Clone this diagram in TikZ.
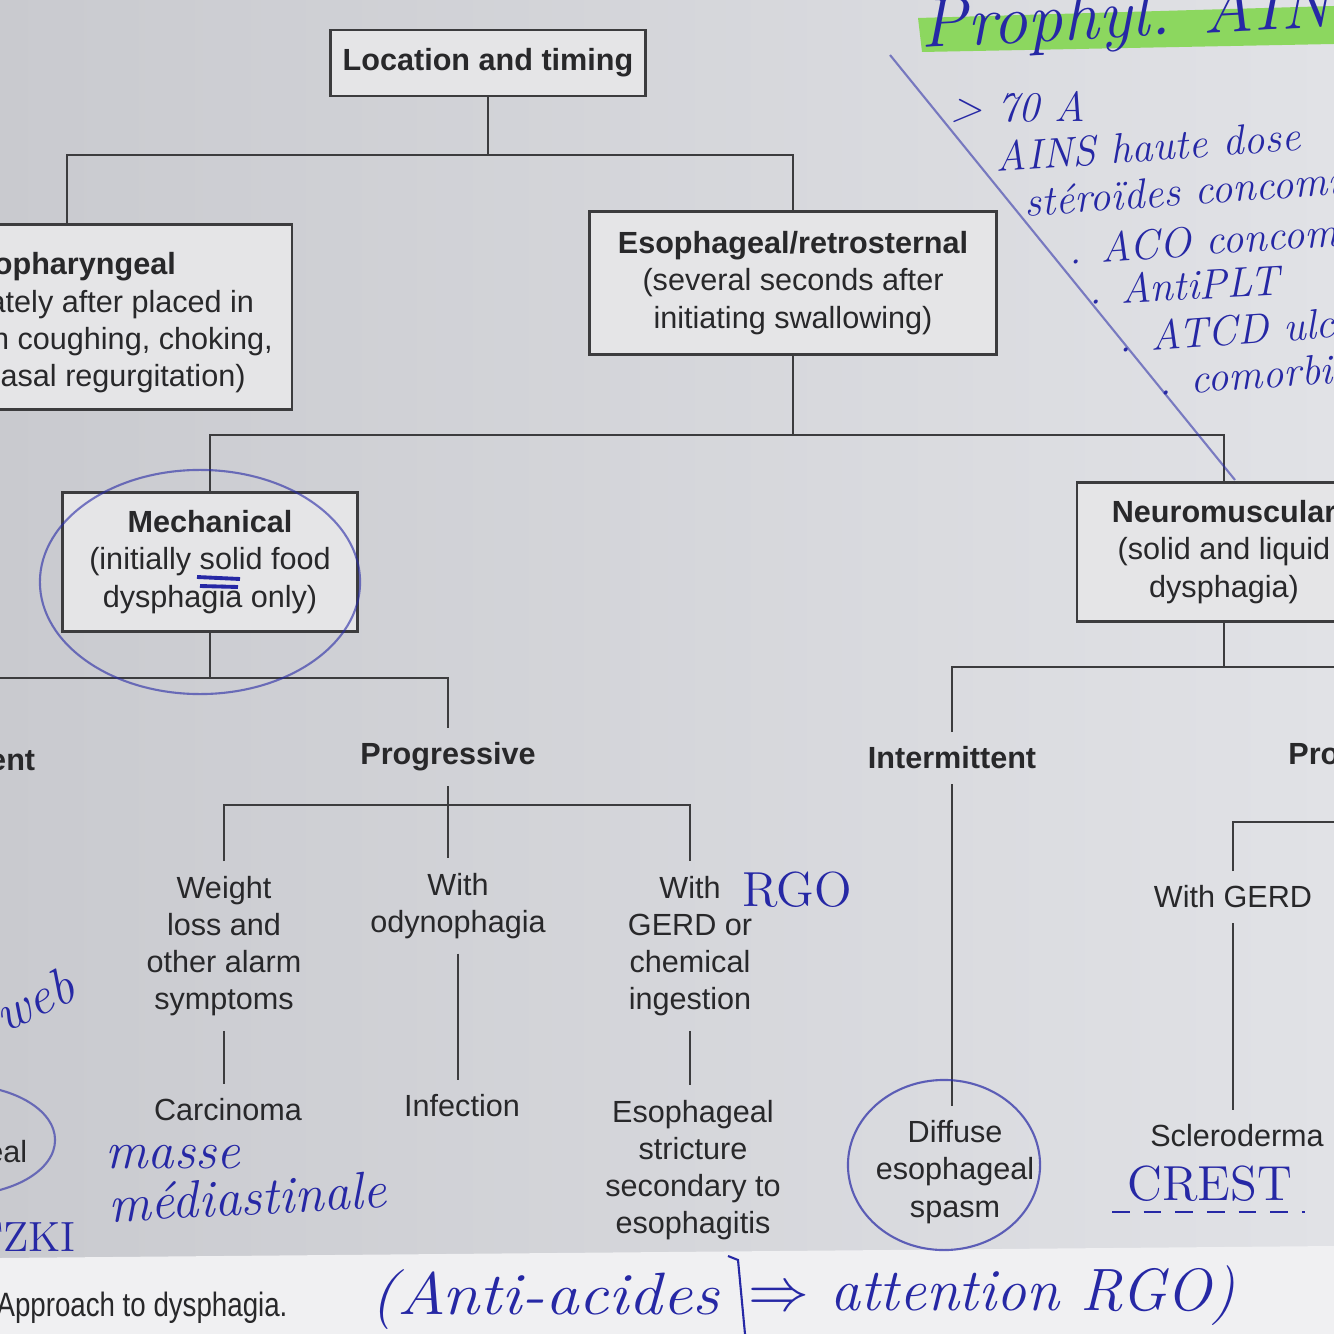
\documentclass[tikz,border=0pt]{standalone}
\usepackage{fontspec}
\newfontfamily\arialf{Liberation Sans}
\definecolor{bgL}{RGB}{201,202,207}
\definecolor{bgR}{RGB}{225,226,230}
\definecolor{paper}{RGB}{240,240,242}
\definecolor{boxfill}{RGB}{229,229,231}
\definecolor{linec}{RGB}{60,60,62}
\definecolor{txt}{RGB}{40,40,42}
\definecolor{ink}{RGB}{38,40,165}
\definecolor{hl}{RGB}{140,215,95}
\newcommand\fs{\arialf\fontsize{8.7}{10.6}\selectfont}
\newcommand\hwfont[1]{\fontsize{#1}{#1}\selectfont\itshape}
\begin{document}
\begin{tikzpicture}[x=0.01cm,y=-0.01cm,
  box/.style={draw=linec,line width=0.75pt,fill=boxfill,align=center,font=\fs,text=txt,inner sep=0pt},
  lab/.style={align=center,font=\fs,text=txt,inner sep=4pt},
  conn/.style={draw=linec,line width=0.75pt},
  hand/.style={text=ink,font=\hwfont{12},inner sep=0pt,anchor=west},
  pen/.style={draw=ink,line width=0.6pt},
]
\useasboundingbox (0,0) rectangle (1334,1334);
\clip (0,0) rectangle (1334,1334);
\shade[left color=bgL,right color=bgR] (0,0) rectangle (1334,1334);
\fill[paper] (0,1258) -- (1334,1246) -- (1334,1334) -- (0,1334) -- cycle;
\fill[hl] (918,18) -- (1334,6) -- (1334,44) -- (922,52) -- cycle;

% boxes
\node[box,minimum width=3.15cm,minimum height=0.66cm] (loc) at (488,63) {\bfseries Location and timing};
\node[box,minimum width=4.5cm,minimum height=1.85cm] (oro) at (67,317) {};
\node[align=center,font=\fs,text=txt,inner sep=0pt] (orotext) at (67,323) {{\bfseries Oropharyngeal}\\(immediately after placed in\\mouth with coughing, choking,\\and/or nasal regurgitation)};
\node[box,minimum width=4.07cm,minimum height=1.43cm] (eso) at (793,283) {{\bfseries Esophageal/retrosternal}\\(several seconds after\\initiating swallowing)};
\node[box,minimum width=2.95cm,minimum height=1.39cm] (mech) at (210,562) {{\bfseries Mechanical}\\(initially solid food\\dysphagia only)};
\node[box,minimum width=2.94cm,minimum height=1.39cm] (neuro) at (1224,552) {{\bfseries Neuromuscular}\\(solid and liquid\\dysphagia)};

% labels
\node[lab] (intL) at (-49,760) {\bfseries Intermittent};
\node[lab] (progL) at (448,757) {\bfseries Progressive};
\node[lab] (intR) at (952,758) {\bfseries Intermittent};
\node[lab] (progR) at (1376,757) {\bfseries Progressive};
\node[lab] (weight) at (224,946) {Weight\\loss and\\other alarm\\symptoms};
\node[lab] (odyn) at (458,906) {With\\odynophagia};
\node[lab] (gerd) at (690,946) {With\\GERD or\\chemical\\ingestion};
\node[lab] (carc) at (228,1110) {Carcinoma};
\node[lab] (infec) at (462,1106) {Infection};
\node[lab] (stric) at (693,1170) {Esophageal\\stricture\\secondary to\\esophagitis};
\node[lab] (diff) at (955,1172) {Diffuse\\esophageal\\spasm};
\node[lab] (wgerd) at (1233,897) {With GERD};
\node[lab] (scl) at (1237,1136) {Scleroderma};
\node[lab,anchor=east] (ring) at (42,1155) {esophageal};
\node[anchor=west,font=\arialf\fontsize{9.6}{11}\selectfont,text=txt,xscale=0.82,inner sep=0pt] (cap) at (-4,1308) {Approach to dysphagia.};

% junctions
\coordinate (j1) at (475,155);
\coordinate (j2) at (787,435);
\coordinate (j3) at (208,678);
\coordinate (j4) at (453,805);
\coordinate (j5) at (1216,667);
\coordinate (j6) at (1376,822);
\coordinate (j6e) at (1460,822);

% connectors
\draw[conn] (oro.north) |- (loc.south |- j1) -| (eso.north) (loc.south) -- (loc.south |- j1);
\draw[conn] (mech.north) |- (eso.south |- j2) -| (neuro.north) (eso.south) -- (eso.south |- j2);
\draw[conn] (intL.north) |- (mech.south |- j3) -| (progL.north) (mech.south) -- (mech.south |- j3);
\draw[conn] (weight.north) |- (progL.south |- j4) -| (gerd.north) (progL.south) -- (progL.south |- odyn.north);
\draw[conn] (intR.north) |- (neuro.south |- j5) -| (progR.north) (neuro.south) -- (neuro.south |- j5);
\draw[conn] (wgerd.north) |- (progR.south |- j6) -- (j6e) (progR.south) -- (progR.south |- j6);
\draw[conn] (weight.south) -- (weight.south |- carc.north);
\draw[conn] (odyn.south) -- (odyn.south |- infec.north);
\draw[conn] (gerd.south) -- (gerd.south |- stric.north);
\draw[conn] (intR.south) -- (intR.south |- diff.north);
\draw[conn] (wgerd.south) -- (wgerd.south |- scl.north);

% handwritten notes
\node[hand,font=\hwfont{20},rotate=3] (h1) at (920,30) {Prophyl. AINS};
\node[hand] (h2) at (950,107) {> 70 A};
\node[hand,rotate=4] (h3) at (995,157) {AINS haute dose};
\node[hand,rotate=4] (h4) at (1024,202) {stéroïdes concomitants};
\node[hand,rotate=4] (h5) at (1068,250) {. ACO concomitants};
\node[hand,rotate=3] (h6) at (1088,290) {. AntiPLT};
\node[hand,rotate=4] (h7) at (1118,338) {. ATCD ulcère};
\node[hand,rotate=4] (h8) at (1158,381) {. comorbidités};
\node[hand,font=\hwfont{14}\upshape] (h9) at (742,890) {RGO};
\node[hand,anchor=east,font=\hwfont{15},rotate=25] (h10) at (72,982) {web};
\node[hand,anchor=east,font=\hwfont{12}\upshape] (h11) at (76,1237) {SCHATZKI};
\node[hand,font=\hwfont{15}] (h12) at (105,1157) {masse};
\node[hand,font=\hwfont{15},rotate=3] (h13) at (108,1204) {médiastinale};
\node[hand,anchor=center,font=\hwfont{14}\upshape] (h14) at (1210,1184) {CREST};
\node[hand,font=\hwfont{17},xscale=1.12] (h15) at (370,1300) {(Anti-acides};
\node[hand,font=\hwfont{17}] (h16) at (748,1296) {$\Rightarrow$ attention RGO)};

% pen marks
\draw[pen,opacity=0.55] (890,55) -- (1235,480);
\draw[pen,opacity=0.6] (200,582) ellipse [x radius=1.6cm,y radius=1.12cm];
\draw[pen,opacity=0.7] (944,1165) ellipse [x radius=0.96cm,y radius=0.85cm];
\draw[pen,opacity=0.6] (-40,1140) ellipse [x radius=0.95cm,y radius=0.55cm];
\draw[pen,line width=1.1pt] (197,577) -- (240,579) (200,586) -- (238,587);
\draw[pen,dash pattern=on 5pt off 4pt] (1112,1212) -- (1305,1212);
\draw[pen] (728,1256) -- (738,1260) -- (745,1334);
\end{tikzpicture}
\end{document}
